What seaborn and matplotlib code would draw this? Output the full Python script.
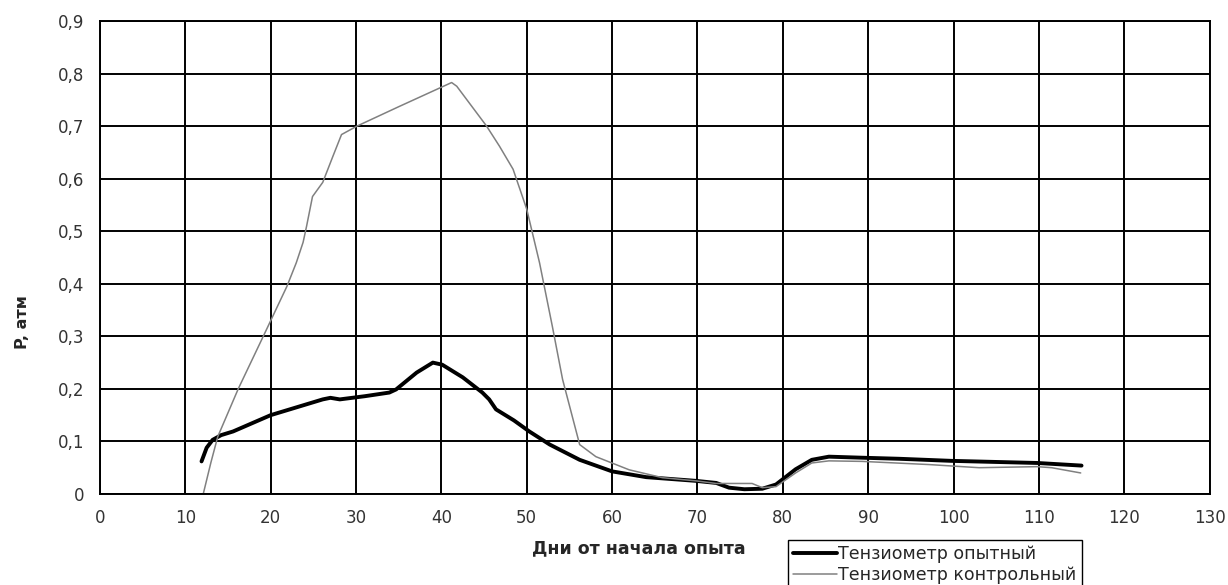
import numpy as np
import pandas as pd
import matplotlib
matplotlib.use("Agg")
import matplotlib.pyplot as plt
import seaborn as sns
from matplotlib.ticker import FuncFormatter

sns.set_style(style='white')
plt.rcParams['font.family'] = ['DejaVu Sans']

# Тензиометр опытный
days_exp = [11.9, 12.5, 13.2, 14.2, 15.6, 20.0, 26.1, 27.0, 28.1, 31.0, 33.9, 34.7,
            37.1, 39.0, 40.1, 42.5, 44.8, 45.6, 46.4, 48.5, 50.3, 52.7, 56.2, 60.0,
            64.0, 69.8, 72.2, 73.7, 75.5, 77.6, 79.2, 81.5, 83.4, 85.4, 89.3, 93.6,
            99.8, 109.8, 115.0]
p_exp = [0.062, 0.088, 0.103, 0.112, 0.119, 0.150, 0.180, 0.183, 0.180, 0.186, 0.193, 0.199,
         0.231, 0.250, 0.246, 0.222, 0.193, 0.180, 0.161, 0.140, 0.119, 0.094, 0.065, 0.043,
         0.032, 0.025, 0.021, 0.012, 0.009, 0.010, 0.018, 0.047, 0.065, 0.071, 0.069, 0.067,
         0.063, 0.059, 0.054]

# Тензиометр контрольный
days_ctl = [12.1, 13.0, 13.8, 16.2, 19.6, 21.9, 23.0, 23.8, 24.2, 24.9, 26.1, 27.3,
            28.3, 30.1, 35.0, 41.2, 41.8, 45.3, 46.8, 48.4, 50.0, 51.5, 53.0, 54.2,
            56.2, 58.1, 62.0, 65.9, 69.8, 72.2, 76.4, 77.6, 79.2, 81.5, 83.4, 85.4,
            89.3, 97.1, 103.0, 109.8, 111.5, 114.9]
p_ctl = [0.0, 0.06, 0.109, 0.200, 0.316, 0.395, 0.44, 0.479, 0.509, 0.566, 0.593, 0.643,
         0.684, 0.700, 0.737, 0.783, 0.776, 0.700, 0.662, 0.618, 0.542, 0.44, 0.319, 0.218,
         0.094, 0.071, 0.046, 0.031, 0.025, 0.020, 0.020, 0.012, 0.014, 0.040, 0.059, 0.063,
         0.062, 0.056, 0.050, 0.052, 0.050, 0.040]

x_ticks = list(range(0, 131, 10))
y_ticks = [0, 0.1, 0.2, 0.3, 0.4, 0.5, 0.6, 0.7, 0.8, 0.9]

exp_df = pd.DataFrame({"day": days_exp, "p": p_exp})
ctl_df = pd.DataFrame({"day": days_ctl, "p": p_ctl})

fig = plt.figure(figsize=(12.28, 5.85), dpi=100)
ax = fig.add_axes([0.0814, 0.1556, 0.9036, 0.8084])

sns.lineplot(data=exp_df, x="day", y="p", sort=False, estimator=None, ax=ax,
             color="black", linewidth=2.8, label="Тензиометр опытный", legend=False)
sns.lineplot(data=ctl_df, x="day", y="p", sort=False, estimator=None, ax=ax,
             color="#808080", linewidth=1.1, label="Тензиометр контрольный", legend=False)

ax.set_xlim(0, 130)
ax.set_ylim(0, 0.9)
ax.set_xticks(x_ticks)
ax.set_yticks(y_ticks)
ax.yaxis.set_major_formatter(FuncFormatter(lambda v, p: "0" if v == 0 else f"{v:.1f}".replace(".", ",")))
ax.grid(True, color="black", linewidth=1.4)
ax.set_axisbelow(True)
for s in ax.spines.values():
    s.set_color("black")
    s.set_linewidth(1.4)
ax.tick_params(axis="both", direction="out", length=6, width=1.2, color="black",
               labelsize=12, labelcolor="#333333", pad=5)

ax.set_xlabel("")
ax.set_ylabel("")
fig.text(0.52, 0.062, "Дни от начала опыта", ha="center", va="center",
         fontsize=12.5, fontweight="bold")
fig.text(0.018, 0.45, "P, атм", ha="center", va="center", rotation=90,
         fontsize=11.5, fontweight="bold",
         family=['Liberation Sans Narrow', 'DejaVu Sans'])

handles, labels = ax.get_legend_handles_labels()
leg = fig.legend(handles, labels, loc="upper right", bbox_to_anchor=(0.881, 0.077),
                 fontsize=12.5, frameon=True, fancybox=False, framealpha=1,
                 edgecolor="black", borderpad=0.3, handlelength=2.5, handletextpad=0.1,
                 labelspacing=0.15, borderaxespad=0)
leg.get_frame().set_linewidth(1.0)

fig.savefig("out.png", dpi=100)
